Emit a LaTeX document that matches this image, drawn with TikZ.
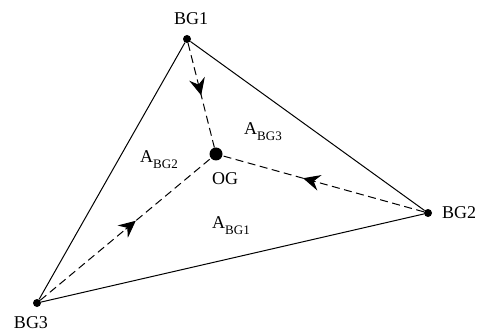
\documentclass[tikz,border=0pt]{standalone}
\usepackage{fontspec}
\setmainfont{Liberation Serif}
\usetikzlibrary{arrows.meta}
\tikzset{
  dot/.style={circle,fill=black,inner sep=0pt,minimum size=#1},
  lbl/.style={inner sep=0pt,font=\fontsize{18}{20}\selectfont},
  edge/.style={line width=1pt},
  flow/.style={line width=1pt,dash pattern=on 8pt off 4.5pt},
  head/.style={line width=1pt,solid,-{Stealth[length=17pt,width=16pt,inset=6pt]}}
}
\newcommand{\Asub}[1]{A\raisebox{-0.28em}{\fontsize{13}{13}\selectfont #1}}
\begin{document}
\begin{tikzpicture}[x=1pt,y=1pt]
\useasboundingbox (0,0) rectangle (481,332);
\node[dot=8pt] (bg1) at (187,293) {};
\node[dot=8pt] (bg2) at (428,119) {};
\node[dot=8pt] (bg3) at (37,29) {};
\node[dot=13pt] (og) at (216,178) {};
\draw[edge] (bg1) -- (bg2) -- (bg3) -- (bg1);
\draw[flow] (bg1) -- (og) coordinate[pos=0.44] (p1) coordinate[pos=0.5] (q1);
\draw[flow] (bg2) -- (og) coordinate[pos=0.54] (p2) coordinate[pos=0.6] (q2);
\draw[flow] (bg3) -- (og) coordinate[pos=0.5] (p3) coordinate[pos=0.56] (q3);
\draw[head] (p1) -- (q1);
\draw[head] (p2) -- (q2);
\draw[head] (p3) -- (q3);
\node[lbl] (l1) at (191,313.5) {BG1};
\node[lbl,anchor=west] (l2) at (442,119) {BG2};
\node[lbl] (l3) at (31,9) {BG3};
\node[lbl] (lo) at (225,153) {OG};
\node[lbl,anchor=base west] (a3) at (244,197) {\Asub{BG3}};
\node[lbl,anchor=base west] (a2) at (140,169) {\Asub{BG2}};
\node[lbl,anchor=base west] (a1) at (212,103) {\Asub{BG1}};
\end{tikzpicture}
\end{document}
